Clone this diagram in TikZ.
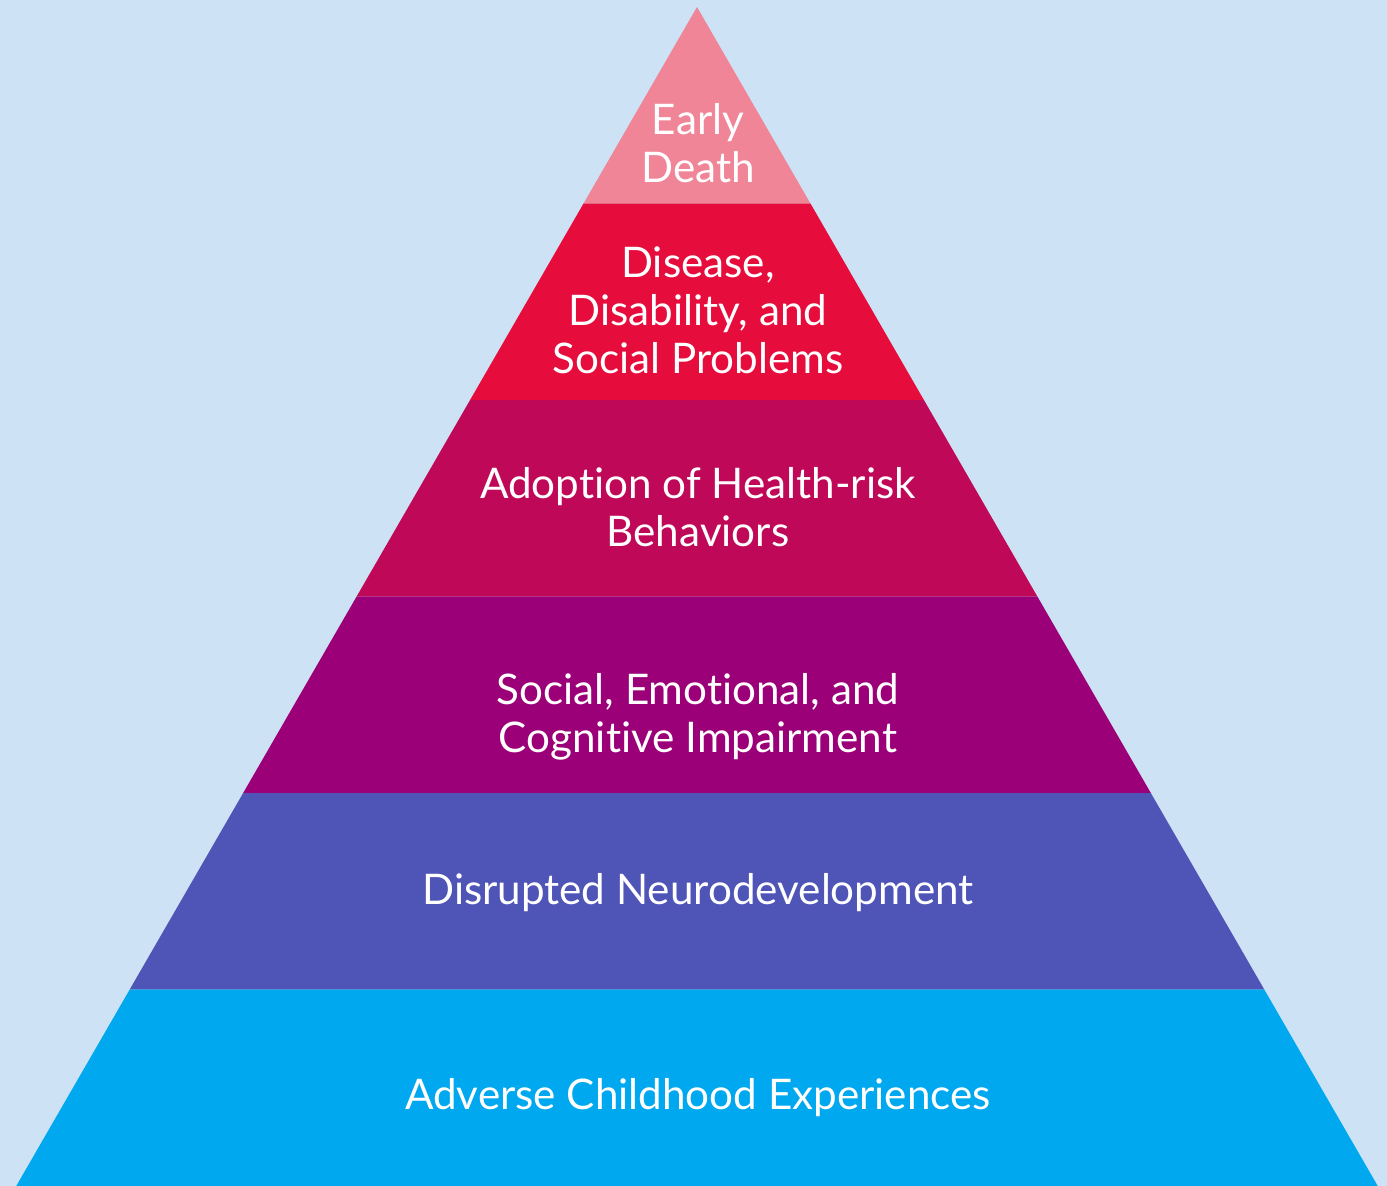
\documentclass[tikz,border=0pt]{standalone}
\usepackage{fontspec}
\setmainfont{Lato}[Ligatures=NoCommon]
\usepackage{xcolor}
\definecolor{acbg}{HTML}{CDE3F5}
\definecolor{acdeath}{HTML}{F08598}
\definecolor{acdisease}{HTML}{E60C3C}
\definecolor{acrisk}{HTML}{C00858}
\definecolor{acimpair}{HTML}{9B0078}
\definecolor{acneuro}{HTML}{4F54B7}
\definecolor{acace}{HTML}{00A8F0}
\usepackage{tikz}
\tikzset{
  aclbl/.style={font=\fontsize{12}{13.7}\selectfont, text=white, align=center,
                anchor=base, inner sep=0pt},
}

\begin{document}
\begin{tikzpicture}
  \fill[acbg] (0,0) rectangle (13.87,11.86);
  % bands from the base up, sides at 60 degrees
  \foreach \i/\col in {0/acace,1/acneuro,2/acimpair,3/acrisk,4/acdisease} {
    \pgfmathsetmacro{\ylo}{\i*1.965}
    \pgfmathsetmacro{\yhi}{(\i+1)*1.965}
    \fill[\col] ({6.97-(11.79-\ylo)*0.5774},\ylo) -- ({6.97+(11.79-\ylo)*0.5774},\ylo)
      -- ({6.97+(11.79-\yhi)*0.5774},\yhi) -- ({6.97-(11.79-\yhi)*0.5774},\yhi) -- cycle;
  }
  \fill[acdeath] ({6.97-1.965*0.5774},9.825) -- ({6.97+1.965*0.5774},9.825)
    -- (6.97,11.79) -- cycle;

  % labels sit on the baseline of their last line
  \node[aclbl] (death)   at (6.98,10.03) {Early\\Death};
  \node[aclbl] (disease) at (6.98,8.12)  {Disease,\\Disability, and\\Social Problems};
  \node[aclbl] (risk)    at (6.98,6.39)  {Adoption of Health-risk\\Behaviors};
  \node[aclbl] (impair)  at (6.98,4.33)  {Social, Emotional, and\\Cognitive Impairment};
  \node[aclbl] (neuro)   at (6.98,2.81)  {Disrupted Neurodevelopment};
  \node[aclbl] (ace)     at (6.98,0.76)  {Adverse Childhood Experiences};
\end{tikzpicture}
\end{document}
